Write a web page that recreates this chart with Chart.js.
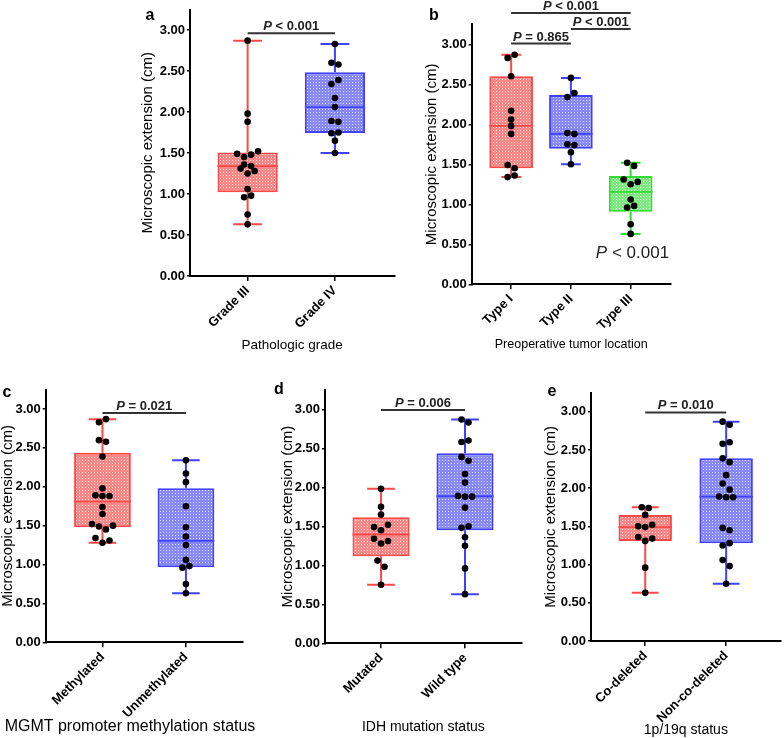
<!DOCTYPE html>
<html><head><meta charset="utf-8">
<script src="https://cdn.jsdelivr.net/npm/chart.js@4.4.1/dist/chart.umd.min.js"></script>
<style>
html,body{margin:0;padding:0;background:#fff;width:784px;height:738px;overflow:hidden}
canvas{position:absolute;left:0;top:0}
</style></head><body>
<canvas id="pa" width="784" height="738"></canvas>
<canvas id="pb" width="784" height="738"></canvas>
<canvas id="pc" width="784" height="738"></canvas>
<canvas id="pd" width="784" height="738"></canvas>
<canvas id="pe" width="784" height="738"></canvas>
<script>
// ---------- data ----------
const yTickValues = [0, 0.5, 1, 1.5, 2, 2.5, 3];
const yAxisTitle = 'Microscopic extension (cm)';

const gradeCategories = ['Grade III', 'Grade IV'];
const gradeIII = [2.87, 1.98, 1.88, 1.49, 1.45, 1.48, 1.52, 1.36, 1.34, 1.31, 1.25, 1.28, 1.06, 0.96, 0.98, 0.75, 0.63];
const gradeIV = [2.83, 2.60, 2.58, 2.34, 2.39, 2.17, 2.06, 1.89, 1.88, 1.74, 1.75, 1.65, 1.50];
const gradeP = ['P < 0.001'];

const locationCategories = ['Type I', 'Type II', 'Type III'];
const typeI = [2.83, 2.87, 2.60, 2.17, 2.06, 1.98, 1.88, 1.49, 1.45, 1.34, 1.36];
const typeII = [2.58, 2.34, 2.39, 1.89, 1.88, 1.75, 1.74, 1.65, 1.50];
const typeIII = [1.52, 1.48, 1.31, 1.25, 1.28, 1.06, 0.96, 0.98, 0.75, 0.63];
const locationP = ['P = 0.865', 'P < 0.001', 'P < 0.001'];
const locationOverallP = 'P < 0.001';

const mgmtCategories = ['Methylated', 'Unmethylated'];
const methylated = [2.83, 2.87, 2.60, 2.58, 2.39, 1.98, 1.89, 1.88, 1.88, 1.74, 1.65, 1.52, 1.49, 1.45, 1.50, 1.34, 1.28, 1.31];
const unmethylated = [2.34, 2.17, 2.06, 1.75, 1.48, 1.36, 1.25, 1.06, 0.96, 0.98, 0.75, 0.63];
const mgmtP = ['P = 0.021'];

const idhCategories = ['Mutated', 'Wild type'];
const idhMutated = [1.98, 1.75, 1.65, 1.49, 1.45, 1.52, 1.34, 1.28, 1.31, 1.06, 0.98, 0.75];
const idhWildType = [2.87, 2.83, 2.58, 2.60, 2.39, 2.34, 2.17, 2.06, 1.89, 1.88, 1.88, 1.74, 1.48, 1.50, 1.36, 1.25, 0.96, 0.63];
const idhP = ['P = 0.006'];

const codelCategories = ['Co-deleted', 'Non-co-deleted'];
const coDeleted = [1.75, 1.74, 1.65, 1.50, 1.49, 1.52, 1.36, 1.31, 1.34, 0.96, 0.63];
const nonCoDeleted = [2.87, 2.83, 2.58, 2.60, 2.39, 2.34, 2.17, 2.06, 1.98, 1.89, 1.88, 1.88, 1.48, 1.45, 1.25, 1.28, 1.06, 0.98, 0.75];
const codelP = ['P = 0.010'];

// ---------- styles ----------
const FONT = "'Liberation Sans', Arial, Helvetica, sans-serif";
const PALETTE = {
  red:   { line: 'rgb(255,72,72)',  base: 'rgb(246,136,136)', dot: 'rgb(255,218,218)' },
  blue:  { line: 'rgb(64,64,255)',  base: 'rgb(136,136,246)', dot: 'rgb(218,218,255)' },
  green: { line: 'rgb(50,220,50)',  base: 'rgb(128,232,128)', dot: 'rgb(215,255,215)' }
};

const PANELS = [
  { canvas: 'pa', letter: 'a', categories: gradeCategories, groups: [gradeIII, gradeIV], colors: ['red', 'blue'],
    area: { L: 190, R: 394.3, T: 9.5, B: 276 }, xRange: [-0.66, 1.68], yTitleX: 148.3,
    xTitle: 'Pathologic grade', xTitleY: 345, xTitleSize: 13.5, letterAt: [150, 16], boxFrac: 0.69,
    comparisons: [{ a: 0, b: 1, level: 2.96, text: gradeP[0] }] },
  { canvas: 'pb', letter: 'b', categories: locationCategories, groups: [typeI, typeII, typeIII], colors: ['red', 'blue', 'green'],
    area: { L: 471.7, R: 670.7, T: 24.3, B: 284.3 }, xRange: [-0.66, 2.67], yTitleX: 431.7,
    xTitle: 'Preoperative tumor location', xTitleY: 345, xTitleSize: 12.5, letterAt: [434, 16], boxFrac: 0.73,
    comparisons: [{ a: 0, b: 1, level: 3.01, text: locationP[0] }, { a: 1, b: 2, level: 3.19, text: locationP[1] }, { a: 0, b: 2, level: 3.39, text: locationP[2] }],
    note: { text: locationOverallP, x: 2.03, y: 0.39 } },
  { canvas: 'pc', letter: 'c', categories: mgmtCategories, groups: [methylated, unmethylated], colors: ['red', 'blue'],
    area: { L: 45.7, R: 242.7, T: 389.6, B: 642.3 }, xRange: [-0.68, 1.68], yTitleX: 7.5,
    xTitle: 'MGMT promoter methylation status', xTitleX: 130, xTitleY: 726.7, xTitleSize: 16, letterAt: [7, 393], boxFrac: 0.68,
    comparisons: [{ a: 0, b: 1, level: 2.95, text: mgmtP[0] }] },
  { canvas: 'pd', letter: 'd', categories: idhCategories, groups: [idhMutated, idhWildType], colors: ['red', 'blue'],
    area: { L: 325, R: 521.7, T: 389.8, B: 643.3 }, xRange: [-0.667, 1.675], yTitleX: 287.5,
    xTitle: 'IDH mutation status', xTitleY: 726.7, xTitleSize: 14, letterAt: [279, 390], boxFrac: 0.68,
    comparisons: [{ a: 0, b: 1, level: 2.99, text: idhP[0] }] },
  { canvas: 'pe', letter: 'e', categories: codelCategories, groups: [coDeleted, nonCoDeleted], colors: ['red', 'blue'],
    area: { L: 591, R: 783.3, T: 392.6, B: 641 }, xRange: [-0.67, 1.674], yTitleX: 551,
    xTitle: '1p/19q status', xTitleY: 730, xTitleSize: 14, letterAt: [552, 392], boxFrac: 0.66,
    comparisons: [{ a: 0, b: 1, level: 2.99, text: codelP[0] }] }
];

// ---------- helpers ----------
function quantile(sorted, p) {
  const n = sorted.length, h = (n + 1) * p;
  if (h <= 1) return sorted[0];
  if (h >= n) return sorted[n - 1];
  const lo = Math.floor(h);
  return sorted[lo - 1] + (h - lo) * (sorted[lo] - sorted[lo - 1]);
}
function stats(values) {
  const s = values.slice().sort((a, b) => a - b);
  return { min: s[0], max: s[s.length - 1], q1: quantile(s, 0.25), med: quantile(s, 0.5), q3: quantile(s, 0.75) };
}
const SWARM_STEP = 7, SWARM_GAP = 6.35;
function swarm(values, idx, xs, ys) {
  const perCat = xs.getPixelForValue(1) - xs.getPixelForValue(0);
  const order = values.map((v, i) => i).sort((a, b) => values[a] - values[b] || a - b);
  const bins = []; let cur = null;
  order.forEach(i => {
    const py = ys.getPixelForValue(values[i]);
    if (cur && Math.abs(cur.py0 - py) <= SWARM_GAP) cur.items.push(i);
    else { cur = { py0: py, items: [i] }; bins.push(cur); }
  });
  const xv = new Array(values.length);
  bins.forEach(b => {
    b.items.sort((a, c) => a - c);
    const n = b.items.length;
    b.items.forEach((i, k) => { xv[i] = idx + (k - (n - 1) / 2) * SWARM_STEP / perCat; });
  });
  return values.map((v, i) => ({ x: xv[i], y: v }));
}
function makePattern(ctx, base, dot) {
  const pc = document.createElement('canvas'); pc.width = 3; pc.height = 3;
  const g = pc.getContext('2d');
  g.fillStyle = base; g.fillRect(0, 0, 3, 3);
  g.fillStyle = dot; g.fillRect(1, 1, 1, 1);
  return ctx.createPattern(pc, 'repeat');
}
function drawPText(ctx, text, cx, y, size, bold) {
  const w = bold ? 'bold ' : '';
  const first = text.charAt(0), rest = text.slice(1);
  ctx.font = 'italic ' + w + size + 'px ' + FONT; const w1 = ctx.measureText(first).width;
  ctx.font = w + size + 'px ' + FONT; const w2 = ctx.measureText(rest).width;
  const x0 = cx - (w1 + w2) / 2;
  ctx.textAlign = 'left';
  ctx.font = 'italic ' + w + size + 'px ' + FONT; ctx.fillText(first, x0, y);
  ctx.font = w + size + 'px ' + FONT; ctx.fillText(rest, x0 + w1, y);
}

function boxPlugin(panel) {
  const st = panel.groups.map(stats);
  return {
    id: 'boxplot_' + panel.letter,
    beforeDatasetsDraw(chart) {
      const { ctx, scales: { x, y } } = chart;
      const sp = x.getPixelForValue(1) - x.getPixelForValue(0);
      const hw = sp * 0.165;
      st.forEach((s, i) => {
        const cx = x.getPixelForValue(i);
        ctx.save();
        ctx.strokeStyle = PALETTE[panel.colors[i]].line; ctx.lineWidth = 2;
        ctx.beginPath();
        ctx.moveTo(cx, y.getPixelForValue(s.max)); ctx.lineTo(cx, y.getPixelForValue(s.q3));
        ctx.moveTo(cx, y.getPixelForValue(s.q1)); ctx.lineTo(cx, y.getPixelForValue(s.min));
        ctx.moveTo(cx - hw, y.getPixelForValue(s.max)); ctx.lineTo(cx + hw, y.getPixelForValue(s.max));
        ctx.moveTo(cx - hw, y.getPixelForValue(s.min)); ctx.lineTo(cx + hw, y.getPixelForValue(s.min));
        ctx.stroke();
        ctx.restore();
      });
    },
    afterDatasetDraw(chart, args) {
      if (args.meta.type !== 'bar') return;
      const { ctx, scales: { y } } = chart;
      args.meta.data.forEach((el, i) => {
        const py = y.getPixelForValue(st[i].med);
        ctx.save();
        ctx.strokeStyle = PALETTE[panel.colors[i]].line; ctx.lineWidth = 1.8;
        ctx.beginPath(); ctx.moveTo(el.x - el.width / 2, py); ctx.lineTo(el.x + el.width / 2, py); ctx.stroke();
        ctx.restore();
      });
    },
    afterDraw(chart) {
      const { ctx, scales: { x, y }, chartArea } = chart;
      ctx.save();
      ctx.fillStyle = '#222'; ctx.strokeStyle = '#333'; ctx.lineWidth = 2;
      panel.comparisons.forEach(c => {
        const x1 = x.getPixelForValue(c.a), x2 = x.getPixelForValue(c.b), py = y.getPixelForValue(c.level);
        ctx.beginPath(); ctx.moveTo(x1, py); ctx.lineTo(x2, py); ctx.stroke();
        ctx.textBaseline = 'alphabetic';
        drawPText(ctx, c.text, (x1 + x2) / 2, py - 3, 13, true);
      });
      if (panel.note) {
        ctx.textBaseline = 'middle';
        drawPText(ctx, panel.note.text, x.getPixelForValue(panel.note.x), y.getPixelForValue(panel.note.y), 17, false);
      }
      ctx.fillStyle = '#000';
      ctx.textAlign = 'center'; ctx.textBaseline = 'middle';
      ctx.font = panel.xTitleSize + 'px ' + FONT;
      const tx = panel.xTitleX !== undefined ? panel.xTitleX : (chartArea.left + chartArea.right) / 2;
      ctx.fillText(panel.xTitle, tx, panel.xTitleY);
      ctx.font = 'bold 16px ' + FONT;
      ctx.fillText(panel.letter, panel.letterAt[0], panel.letterAt[1]);
      ctx.restore();
    }
  };
}

Chart.defaults.font.family = FONT;
Chart.defaults.color = '#000';

PANELS.forEach(panel => {
  const canvas = document.getElementById(panel.canvas);
  const ctx = canvas.getContext('2d');
  const A = panel.area;
  const titleHalf = 7.5;
  const pl = panel.yTitleX - titleHalf;
  const yw = A.L - pl;
  const xh = panel.xTitleY + panel.xTitleSize / 2 - A.B;
  const pb = 738 - A.B - xh;
  const st = panel.groups.map(stats);
  const patterns = panel.colors.map(c => makePattern(ctx, PALETTE[c].base, PALETTE[c].dot));
  const cats = panel.categories;

  const chart = new Chart(ctx, {
    type: 'bar',
    data: {
      datasets: [
        { type: 'bar', order: 1,
          data: st.map((s, i) => ({ x: i, y: [s.q1, s.q3] })),
          backgroundColor: patterns,
          borderColor: panel.colors.map(c => PALETTE[c].line),
          borderWidth: 2, borderSkipped: false,
          categoryPercentage: 1, barPercentage: panel.boxFrac },
        { type: 'scatter', order: 0,
          data: panel.groups.flatMap((g, i) => g.map(v => ({ x: i, y: v }))),
          pointRadius: 3.3, pointHoverRadius: 3.3, pointBackgroundColor: '#000', pointBorderWidth: 0, showLine: false }
      ]
    },
    options: {
      responsive: false, animation: false, devicePixelRatio: 1,
      layout: { padding: { left: pl, right: 784 - A.R, top: A.T, bottom: pb } },
      plugins: { legend: { display: false }, tooltip: { enabled: false } },
      scales: {
        x: {
          type: 'linear', min: panel.xRange[0], max: panel.xRange[1], offset: false,
          afterBuildTicks: s => { s.ticks = cats.map((c, i) => ({ value: i })); },
          ticks: { callback: v => cats[v], autoSkip: false, minRotation: 45, maxRotation: 45, padding: 2,
                   font: { family: FONT, size: 13, weight: 'bold' }, color: '#000' },
          grid: { display: true, offset: false, drawOnChartArea: false, drawTicks: true, tickLength: 5, color: '#000', lineWidth: 1.5 },
          border: { display: true, color: '#000', width: 2 },
          title: { display: false },
          afterFit: s => { s.height = xh; s.paddingLeft = 0; s.paddingRight = 0; s.paddingTop = 0; s.paddingBottom = 0; }
        },
        y: {
          type: 'linear', min: 0, max: 3.25,
          afterBuildTicks: s => { s.ticks = yTickValues.map(v => ({ value: v })); },
          ticks: { callback: v => Number(v).toFixed(2), padding: 2, font: { family: FONT, size: 13, weight: 'bold' }, color: '#000' },
          grid: { display: true, offset: false, drawOnChartArea: false, drawTicks: true, tickLength: 3, color: '#000', lineWidth: 1.5 },
          border: { display: true, color: '#000', width: 2 },
          title: { display: true, text: yAxisTitle, color: '#000', padding: 0,
                   font: { family: FONT, size: 15, lineHeight: 1 } },
          afterFit: s => { s.width = yw; s.paddingLeft = 0; s.paddingRight = 0; s.paddingTop = 0; s.paddingBottom = 0; }
        }
      }
    },
    plugins: [boxPlugin(panel)]
  });
  chart.data.datasets[1].data = panel.groups.flatMap((g, i) => swarm(g, i, chart.scales.x, chart.scales.y));
  chart.update('none');
});
</script>
</body></html>
